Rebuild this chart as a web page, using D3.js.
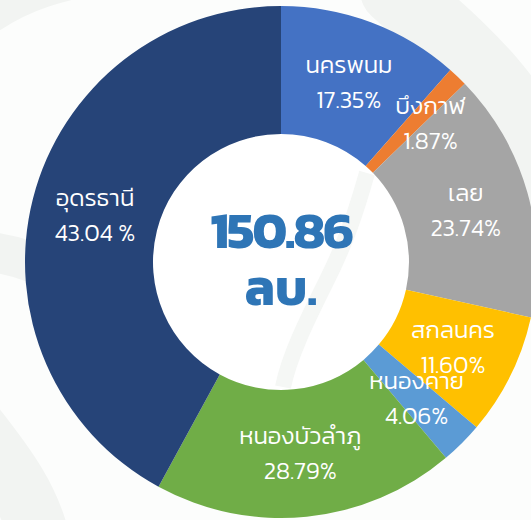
<!DOCTYPE html>
<html>
<head>
<meta charset="utf-8">
<script src="https://cdn.jsdelivr.net/npm/d3@7"></script>
<style>
  html, body { margin: 0; padding: 0; background: #fcfdfc; }
  #chart { width: 531px; height: 520px; overflow: hidden; }
  text { font-family: "Kanit", "Prompt", "Noto Sans Thai", "Noto Sans", sans-serif; }
</style>
</head>
<body>
<div id="chart"></div>
<script>
// provinces, clockwise from 12 o'clock
const provinces = ['นครพนม', 'บึงกาฬ', 'เลย', 'สกลนคร', 'หนองคาย', 'หนองบัวลำภู', 'อุดรธานี'];
// slice sizes (million baht), total 150.86
const values = [17.35, 1.87, 23.74, 11.60, 4.06, 28.79, 63.45];
// percent labels as printed on the chart
const percentLabels = ['17.35%', '1.87%', '23.74%', '11.60%', '4.06%', '28.79%', '43.04 %'];
const colors = ['#4472c4', '#ed7d31', '#a5a5a5', '#ffc000', '#5b9bd5', '#70ad47', '#264478'];
const totalLabel = '150.86';
const unitLabel = 'ลบ.';

const width = 531;
const height = 520;
const cx = 281;
const cy = 262;
const outerR = 256;
const innerR = 128;

const svg = d3.select('#chart').append('svg')
  .attr('width', width)
  .attr('height', height);

// faint watermark behind the chart
const wm = svg.append('g')
  .attr('fill', 'none')
  .attr('stroke', '#f2f4f2')
  .attr('stroke-linecap', 'round');
wm.append('path')
  .attr('d', 'M395,-10 C450,40 520,90 560,200')
  .attr('stroke-width', 70);
wm.append('path')
  .attr('d', 'M-40,250 C20,250 60,270 90,300')
  .attr('stroke-width', 40);
wm.append('path')
  .attr('d', 'M-30,420 C10,470 30,500 40,540')
  .attr('stroke-width', 60);
wm.append('path')
  .attr('d', 'M-20,20 C20,-10 60,-20 120,-30')
  .attr('stroke-width', 40);

const pie = d3.pie()
  .value(d => d)
  .sort(null);

const arc = d3.arc()
  .innerRadius(innerR)
  .outerRadius(outerR);

const labelArc = d3.arc()
  .innerRadius((innerR + outerR) / 2)
  .outerRadius((innerR + outerR) / 2);

const arcs = pie(values);

const g = svg.append('g')
  .attr('transform', `translate(${cx},${cy})`);

// inner hole with a faint swirl
g.append('circle')
  .attr('r', innerR)
  .attr('fill', '#ffffff');
g.append('path')
  .attr('d', 'M86,-89 C75,-50 65,-20 45,20 C25,60 8,95 2,125')
  .attr('fill', 'none')
  .attr('stroke', '#f5f7f5')
  .attr('stroke-width', 16);

g.selectAll('.slice')
  .data(arcs)
  .enter().append('path')
    .attr('class', 'slice')
    .attr('d', arc)
    .attr('fill', (d, i) => colors[i]);

// small slice label gets pushed right a bit
const nudge = { 1: [17, 0] };

const labels = g.selectAll('.label')
  .data(arcs)
  .enter().append('g')
    .attr('class', 'label')
    .attr('transform', (d, i) => {
      const c = labelArc.centroid(d);
      const n = nudge[i] || [0, 0];
      return `translate(${c[0] + n[0]},${c[1] + n[1]})`;
    });

labels.append('text')
  .attr('text-anchor', 'middle')
  .attr('y', -9)
  .attr('fill', '#ffffff')
  .style('font-size', '24px')
  .style('font-weight', '300')
  .text((d, i) => provinces[i]);

labels.append('text')
  .attr('text-anchor', 'middle')
  .attr('y', 26)
  .attr('fill', '#ffffff')
  .style('font-size', '24px')
  .style('font-weight', '300')
  .text((d, i) => percentLabels[i]);

g.append('text')
  .attr('text-anchor', 'middle')
  .attr('y', -14)
  .attr('fill', '#2e75b6')
  .style('font-size', '52px')
  .style('font-weight', 'bold')
  .style('letter-spacing', '-2px')
  .text(totalLabel);

g.append('text')
  .attr('text-anchor', 'middle')
  .attr('y', 43)
  .attr('fill', '#2e75b6')
  .style('font-size', '50px')
  .style('font-weight', 'bold')
  .text(unitLabel);
</script>
</body>
</html>
